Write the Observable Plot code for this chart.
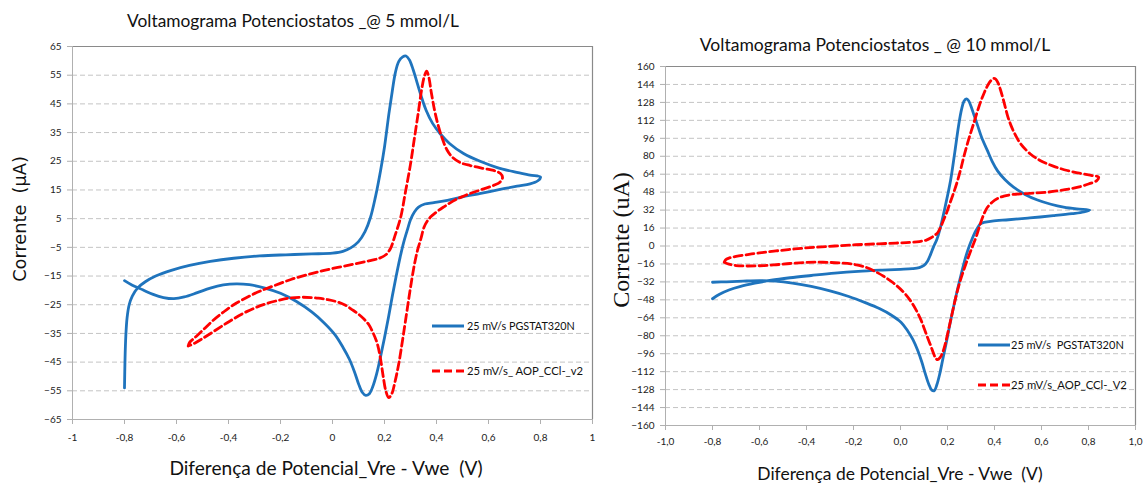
<!DOCTYPE html>
<html><head><meta charset="utf-8">
<script src="https://cdn.jsdelivr.net/npm/d3@7"></script>
<script src="https://cdn.jsdelivr.net/npm/@observablehq/plot@0.6"></script>
<style>
body{margin:0;background:#fff;}
#wrap{position:relative;width:1144px;height:485px;overflow:hidden;background:#fff;}
.abs{position:absolute;white-space:pre;line-height:1;color:#111;}
.panel{position:absolute;top:0;}
</style></head><body><div id="wrap"></div>
<script>
// ---------- Panel 1: 5 mmol/L ----------
const xTicks5 = [-1,-0.8,-0.6,-0.4,-0.2,0,0.2,0.4,0.6,0.8,1];
const xTickLabels5 = ["-1","-0,8","-0,6","-0,4","-0,2","0","0,2","0,4","0,6","0,8","1"];
const yTicks5 = [-65,-55,-45,-35,-25,-15,-5,5,15,25,35,45,55,65];

const pot5Pgstat = [-0.80,-0.798,-0.795,-0.79,-0.782,-0.77,-0.75,-0.72,-0.68,-0.62,-0.55,-0.47,-0.38,-0.28,-0.18,-0.08,0.0,0.04,0.07,0.10,0.125,0.146,0.165,0.185,0.20,0.217,0.23,0.242,0.255,0.27,0.283,0.296,0.31,0.325,0.34,0.36,0.385,0.415,0.45,0.504,0.57,0.634,0.70,0.76,0.80,
  0.79,0.76,0.71,0.64,0.57,0.50,0.442,0.39,0.355,0.331,0.315,0.30,0.287,0.273,0.26,0.245,0.23,0.215,0.20,0.185,0.17,0.155,0.142,0.128,0.115,0.10,0.085,0.065,0.04,0.01,-0.03,-0.08,-0.14,-0.20,-0.26,-0.32,-0.37,-0.42,-0.47,-0.52,-0.57,-0.61,-0.65,-0.69,-0.73,-0.77,-0.80];
const cur5Pgstat = [-54,-44,-36,-29.5,-25,-22,-19.2,-17,-15,-13,-11.3,-9.9,-8.8,-8.0,-7.6,-7.3,-7.0,-6.4,-5.2,-3.0,0.5,5.4,12.5,21.8,30,41.6,49.5,56,59.8,61.4,61.7,60.3,57,52.5,48,42.8,38.2,34.5,31.2,27.7,24.9,22.8,21.3,20.2,19.5,
  18.2,17.1,16.3,15.1,13.8,12.6,11.4,10.6,10.1,9,7.3,4.6,0.8,-3.5,-8.5,-15,-22,-29.5,-36.5,-43,-49,-53.5,-56,-56.6,-55.6,-52.5,-48.5,-44,-39.8,-35.5,-31.5,-27.5,-23.8,-21,-19.2,-18,-17.7,-18.1,-19.2,-20.8,-22.3,-22.9,-22.5,-21.4,-19.8,-18.2,-16.6];

const pot5Aop = [-0.555,-0.55,-0.53,-0.50,-0.46,-0.42,-0.38,-0.33,-0.28,-0.22,-0.16,-0.10,-0.04,0.02,0.08,0.14,0.18,0.205,0.223,0.24,0.262,0.28,0.30,0.315,0.33,0.342,0.353,0.362,0.37,0.38,0.392,0.405,0.42,0.44,0.46,0.49,0.53,0.58,0.62,0.645,0.654,
  0.645,0.62,0.575,0.53,0.495,0.465,0.43,0.404,0.38,0.365,0.352,0.34,0.327,0.315,0.30,0.285,0.27,0.255,0.24,0.228,0.216,0.205,0.195,0.185,0.172,0.157,0.14,0.121,0.10,0.077,0.05,0.018,-0.02,-0.055,-0.114,-0.16,-0.20,-0.26,-0.33,-0.40,-0.46,-0.50,-0.53,-0.555];
const cur5Aop = [-39.4,-38.2,-36.5,-34,-30.5,-27.6,-25,-22.5,-20.3,-18.2,-16.2,-14.6,-13.2,-12,-10.9,-9.7,-8.8,-7.6,-5.4,-1,5.4,14,24,33,42,49.5,54.5,56.4,54.5,49,43,38,33.5,29,26.5,24.6,23.5,22.5,21.8,20.8,19.4,
  17.8,16.6,15.2,13.8,12.5,11.2,9.2,7.6,5.8,4.2,2,-2,-6,-11,-19,-28,-37,-45.5,-52,-56,-57.4,-55,-50,-44,-38.5,-35,-32,-30,-28.3,-26.8,-25.2,-24,-23.2,-22.7,-22.4,-22.6,-23.3,-24.8,-27.4,-31,-34.5,-36.8,-38.4,-39.4];

// ---------- Panel 2: 10 mmol/L ----------
const xTicks10 = [-1,-0.8,-0.6,-0.4,-0.2,0,0.2,0.4,0.6,0.8,1];
const xTickLabels10 = ["-1,0","-0,8","-0,6","-0,4","-0,2","0,0","0,2","0,4","0,6","0,8","1,0"];
const yTicks10 = [-160,-144,-128,-112,-96,-80,-64,-48,-32,-16,0,16,32,48,64,80,96,112,128,144,160];

const pot10Pgstat = [-0.80,-0.77,-0.73,-0.68,-0.62,-0.55,-0.47,-0.38,-0.28,-0.18,-0.08,0.0,0.05,0.08,0.10,0.115,0.128,0.14,0.155,0.17,0.19,0.213,0.23,0.247,0.26,0.27,0.28,0.29,0.30,0.314,0.328,0.345,0.37,0.39,0.413,0.445,0.481,0.53,0.583,0.64,0.694,0.75,0.805,
  0.78,0.73,0.65,0.55,0.46,0.39,0.355,0.34,0.33,0.318,0.305,0.292,0.28,0.268,0.255,0.24,0.225,0.21,0.195,0.18,0.167,0.155,0.144,0.133,0.12,0.105,0.09,0.073,0.053,0.03,0.002,-0.04,-0.09,-0.15,-0.22,-0.30,-0.38,-0.46,-0.53,-0.60,-0.67,-0.74,-0.80];
const cur10Pgstat = [-47,-43,-39.2,-36,-33.2,-30.5,-28.3,-26.3,-24.2,-22.6,-21.5,-20.8,-20.2,-19.2,-17.2,-13.5,-7.5,-1,6,16.5,35,58.4,82,107,122,129,131.2,129.5,124.5,116,107.5,97,85,75.5,67,59,52.5,46,41,37.2,34.6,33,32,
  30.3,28.8,27,25,23.4,22.2,21,19.8,17,12.5,6.5,-0.5,-8,-17,-28,-41,-55,-70,-86,-101,-114,-123.5,-129,-128.5,-123,-113.5,-103,-93,-83.5,-75.5,-68,-61.5,-55.8,-50.5,-45,-40,-36,-33,-31.3,-30.9,-31.3,-31.9,-32.3];

const pot10Aop = [-0.75,-0.745,-0.73,-0.70,-0.65,-0.60,-0.53,-0.45,-0.37,-0.28,-0.19,-0.10,-0.02,0.04,0.08,0.11,0.13,0.145,0.157,0.17,0.183,0.197,0.21,0.227,0.243,0.257,0.27,0.29,0.311,0.335,0.355,0.372,0.385,0.396,0.405,0.415,0.425,0.44,0.455,0.47,0.49,0.51,0.55,0.596,0.65,0.71,0.77,0.815,0.843,
  0.835,0.80,0.766,0.70,0.626,0.55,0.481,0.44,0.413,0.39,0.37,0.355,0.34,0.325,0.31,0.295,0.28,0.265,0.25,0.235,0.22,0.205,0.192,0.18,0.168,0.158,0.149,0.14,0.128,0.115,0.10,0.085,0.065,0.04,0.01,-0.03,-0.07,-0.11,-0.15,-0.20,-0.26,-0.33,-0.40,-0.47,-0.54,-0.60,-0.66,-0.70,-0.73,-0.75];
const cur10Aop = [-14.5,-12.5,-10.8,-9.3,-7.6,-6.1,-4.4,-2.6,-1.2,0,1.1,1.9,2.6,3.2,4,5.3,7.3,9.5,11.5,16.5,23,30,38,48,58.4,69,80,95,109,125,136,143.5,147.5,149.3,148.8,145.5,139.5,128.5,116.5,107.5,98.5,91.5,82.5,76,71.2,67.3,64.5,62.8,61.5,
  58.3,55.3,53,50.2,48,46.9,46,44.5,42.3,39,34.5,28.5,20,10,1.5,-6.5,-15,-24,-34,-46,-60,-74,-86,-94.5,-99.5,-101.3,-99.8,-95.5,-88.5,-81.5,-73,-65,-56.5,-48,-40.5,-33,-27.2,-22.5,-18.8,-16.3,-15.1,-14.5,-14.6,-15.6,-16.9,-17.6,-17.8,-17.4,-16.2,-14.5];

// ---------- styles ----------
const blue = "#1f74bd", red = "#ff0000";
const tickFont = {fontFamily: "Lato, sans-serif", fontSize: "10px", fill: "#222"};

const table = (xs, ys) => xs.map((x, i) => ({x, y: ys[i]}));
const wrap = document.getElementById("wrap");

function panel({left, width, mL, mR, mT, mB, xT, xL, yT, xPad, yPad, blueData, redData}) {
  const fmt = d => xL[xT.indexOf(d)] ?? "";
  const chart = Plot.plot({
    width, height: 485,
    marginLeft: mL, marginRight: mR, marginTop: mT, marginBottom: mB,
    style: {background: "transparent", overflow: "visible"},
    x: {domain: [xT[0], xT[xT.length - 1]]},
    y: {domain: [yT[0], yT[yT.length - 1]]},
    marks: [
      Plot.gridY(yT.slice(1, -1), {stroke: "#c4c4c4", strokeOpacity: 1, strokeDasharray: "5,3"}),
      Plot.ruleY([yT[yT.length - 1]], {stroke: "#8a8a8a", strokeWidth: 1.2}),
      Plot.ruleX([xT[xT.length - 1]], {stroke: "#8a8a8a", strokeWidth: 1.2}),
      Plot.ruleY([yT[0]], {stroke: "#b0b0b0"}),
      Plot.ruleX([xT[0]], {stroke: "#b0b0b0"}),
      Plot.axisX(xT, {tickFormat: fmt, tickSize: 5, tickPadding: xPad, stroke: "#b0b0b0", ...tickFont, label: null}),
      Plot.axisY(yT, {tickSize: 5, tickPadding: yPad, stroke: "#b0b0b0", ...tickFont, label: null}),
      Plot.line(blueData, {x: "x", y: "y", stroke: blue, strokeWidth: 2.8, curve: "catmull-rom"}),
      Plot.line(redData, {x: "x", y: "y", stroke: red, strokeWidth: 2.8, strokeDasharray: "8,4", curve: "catmull-rom"})
    ]
  });
  chart.classList.add("panel");
  chart.style.left = left + "px";
  wrap.appendChild(chart);
}

panel({left: 0, width: 600, mL: 72, mR: 8, mT: 46, mB: 66, xT: xTicks5, xL: xTickLabels5, yT: yTicks5,
  xPad: 9, yPad: 6, blueData: table(pot5Pgstat, cur5Pgstat), redData: table(pot5Aop, cur5Aop)});
panel({left: 600, width: 544, mL: 65, mR: 9, mT: 66, mB: 60, xT: xTicks10, xL: xTickLabels10, yT: yTicks10,
  xPad: 7, yPad: 6, blueData: table(pot10Pgstat, cur10Pgstat), redData: table(pot10Aop, cur10Aop)});

// ---------- texts (titles, axis titles, legends) ----------
function text(str, {x, y, len, font, anchor = "middle", rotate = false, weight = "normal"}) {
  const d = document.createElement("div");
  d.className = "abs";
  d.textContent = str;
  d.style.fontFamily = font;
  d.style.fontWeight = weight;
  d.style.fontSize = "20px";
  wrap.appendChild(d);
  const w = d.offsetWidth;
  d.style.fontSize = (20 * len / w) + "px";
  d.style.left = x + "px";
  d.style.top = y + "px";
  const tx = anchor === "middle" ? "-50%" : "0";
  d.style.transform = `translate(${tx},-50%)` + (rotate ? " rotate(-90deg)" : "");
  return d;
}
function swatch(x, y, color, dashed) {
  const s = document.createElementNS("http://www.w3.org/2000/svg", "svg");
  s.setAttribute("width", 32); s.setAttribute("height", 8);
  s.style.position = "absolute"; s.style.left = x + "px"; s.style.top = (y - 4) + "px";
  const l = document.createElementNS("http://www.w3.org/2000/svg", "line");
  l.setAttribute("x1", 0); l.setAttribute("x2", 32); l.setAttribute("y1", 4); l.setAttribute("y2", 4);
  l.setAttribute("stroke", color); l.setAttribute("stroke-width", 3);
  if (dashed) l.setAttribute("stroke-dasharray", "8,4");
  s.appendChild(l); wrap.appendChild(s);
}

const titleFont = "Lato, 'Open Sans', sans-serif";
text("Voltamograma Potenciostatos _@ 5 mmol/L", {x: 293, y: 21, len: 332, font: titleFont});
text("Voltamograma Potenciostatos _ @ 10 mmol/L", {x: 875, y: 45, len: 351, font: titleFont});
text("Diferença de Potencial_Vre - Vwe  (V)", {x: 326, y: 468, len: 314, font: titleFont});
text("Diferença de Potencial_Vre - Vwe  (V)", {x: 900, y: 474, len: 286, font: titleFont});
text("Corrente  (µA)", {x: 21, y: 219, len: 126, font: "'DejaVu Sans', sans-serif", rotate: true});
text("Corrente (uA)", {x: 621, y: 240, len: 136, font: "'Liberation Serif', 'DejaVu Serif', serif", rotate: true});

// legends
swatch(432, 326, blue, false);
text("25 mV/s PGSTAT320N", {x: 467, y: 326, len: 108, font: titleFont, anchor: "start"});
swatch(432, 371, red, true);
text("25 mV/s_ AOP_CCl-_v2", {x: 467, y: 371, len: 116, font: titleFont, anchor: "start"});
swatch(978, 345, blue, false);
text("25 mV/s  PGSTAT320N", {x: 1011, y: 345, len: 113, font: titleFont, anchor: "start"});
swatch(978, 385, red, true);
text("25 mV/s_AOP_CCl-_V2", {x: 1011, y: 385, len: 116, font: titleFont, anchor: "start"});
</script>
</body></html>
